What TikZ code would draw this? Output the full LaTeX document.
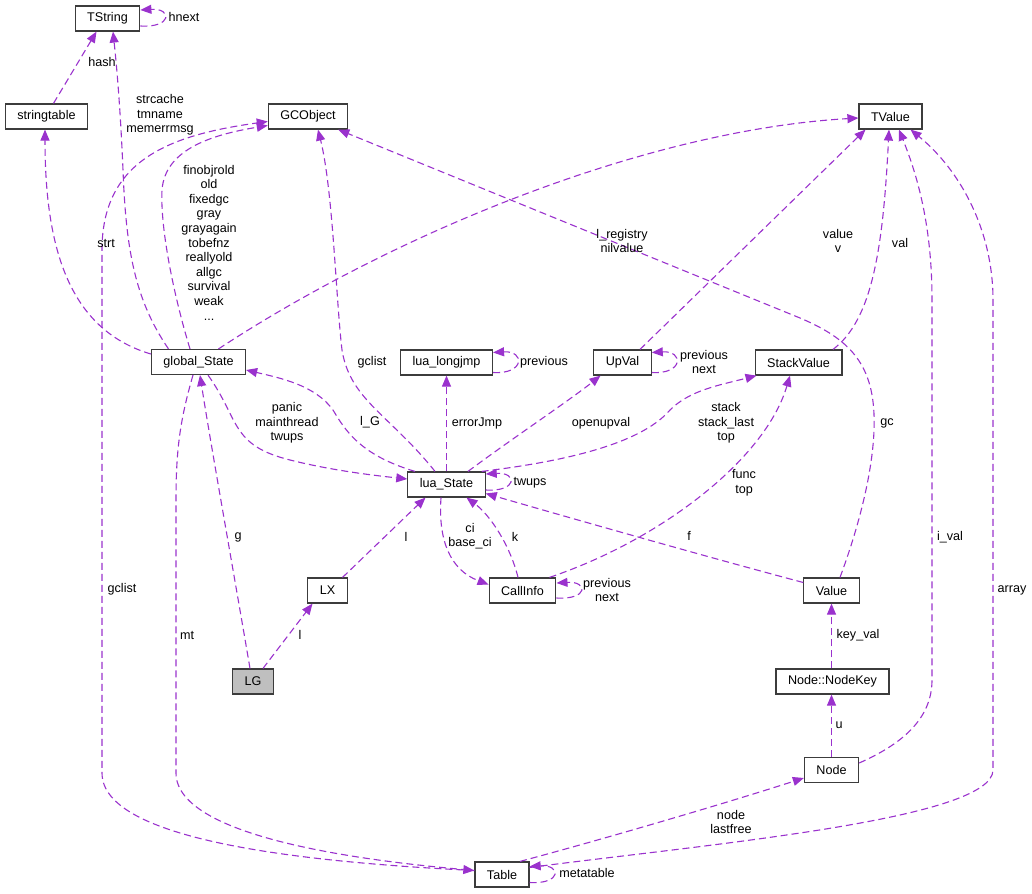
\documentclass[tikz,border=0pt]{standalone}
\usepackage{fontspec}
\setmainfont{Liberation Sans}
\usepackage{xcolor}
\usepackage{tikz}
\usetikzlibrary{arrows.meta,positioning,calc}
\definecolor{edgecol}{RGB}{154,50,205}
\definecolor{framecol}{RGB}{60,60,60}
\definecolor{hlfill}{RGB}{191,191,191}

\begin{document}
\begin{tikzpicture}[
  x=1pt, y=-1pt,
  font=\fontsize{12.6}{14.6}\selectfont,
  cls/.style={draw=framecol, line width=1.2pt, fill=white, inner xsep=12pt, inner ysep=2pt, minimum height=25pt},
  hcls/.style={cls, fill=hlfill},
  lbl/.style={align=center, inner sep=0pt},
  arrow/.style={-{Triangle[length=11pt,width=9pt]}, line width=1.1pt, color=edgecol, dash pattern=on 7pt off 4pt}
]
\useasboundingbox (0,0) rectangle (1032,893);
% classes
\node[cls] (TString) at (107.5,18.5) {TString};
\node[cls] (stringtable) at (46.5,116.5) {stringtable};
\node[cls] (GCObject) at (308,116.5) {GCObject};
\node[cls] (TValue) at (890.5,116.5) {TValue};
\node[cls] (globalState) at (198.5,362) {global\_State};
\node[cls] (lualongjmp) at (446.5,362.5) {lua\_longjmp};
\node[cls] (UpVal) at (622.5,362.5) {UpVal};
\node[cls] (StackValue) at (798.5,362.5) {StackValue};
\node[cls] (luaState) at (446.5,484.5) {lua\_State};
\node[cls] (LX) at (327.5,590.5) {LX};
\node[cls] (CallInfo) at (522.5,590.5) {CallInfo};
\node[cls] (Value) at (831.5,590.5) {Value};
\node[hcls] (LG) at (253,681.5) {LG};
\node[cls] (NodeKey) at (832.5,681.5) {Node::NodeKey};
\node[cls] (Node) at (831.5,770) {Node};
\node[cls] (Table) at (502,874.5) {Table};

% members
\draw[arrow] ([yshift=-7.5pt]TString.east) .. controls +(32,2) and +(32,-2) .. ([yshift=8.5pt]TString.east);
\draw[arrow] ([xshift=7pt]stringtable.north) -- ([xshift=-11pt]TString.south);
\draw[arrow] ([xshift=-30pt]globalState.north) .. controls (135,300) and (126,250) .. (123,170)
  .. controls (120,100) and (116,60) .. ([xshift=5.5pt]TString.south);
\draw[arrow] ([yshift=8pt]globalState.west) .. controls (70,330) and (45,250) .. ([xshift=-1.5pt]stringtable.south);
\draw[arrow] ([xshift=-8.5pt]globalState.north) .. controls (175,300) and (160,230) .. (162,190)
  .. controls (165,150) and (210,135) .. ([yshift=-9pt]GCObject.west);
\draw[arrow] ([yshift=4pt]Table.west) .. controls (300,862) and (102,840) .. (102,773) -- (102,250)
  .. controls (102,160) and (170,135) .. ([yshift=-5pt]GCObject.west);
\draw[arrow] ([xshift=-5.5pt]globalState.south) .. controls (180,420) and (176,450) .. (176,500) -- (176,773)
  .. controls (176,840) and (380,862) .. ([yshift=4pt]Table.west);
\draw[arrow] ([xshift=-11.5pt]luaState.north) .. controls (390,415) and (350,400) .. (342,350)
  .. controls (336,300) and (333,190) .. ([xshift=10pt]GCObject.south);
\draw[arrow] ([xshift=20pt]globalState.north) .. controls (400,230) and (650,130) .. ([yshift=-1.5pt]TValue.west);
\draw[arrow] ([xshift=8.5pt]Value.north) .. controls (865,510) and (880,440) .. (872,395)
  .. controls (865,355) and (840,335) .. (800,318) -- ([xshift=-10pt]GCObject.south east);
\draw[arrow] ([xshift=17.5pt]UpVal.north) -- ([xshift=-25pt]TValue.south);
\draw[arrow] ([xshift=34.5pt]StackValue.north) .. controls (872,320) and (883,250) .. ([xshift=-1.5pt]TValue.south);
\draw[arrow] ([yshift=7pt]Node.east) .. controls (900,745) and (932,720) .. (932,680) -- (932,300)
  .. controls (932,220) and (915,170) .. ([xshift=8.5pt]TValue.south);
\draw[arrow] ([yshift=7pt]Table.east) .. controls (700,845) and (993,820) .. (993,770) -- (993,300)
  .. controls (993,230) and (960,170) .. ([xshift=20pt]TValue.south);
\draw[arrow] ([yshift=-10pt]lualongjmp.east) .. controls +(32,2) and +(32,-2) .. ([yshift=10pt]lualongjmp.east);
\draw[arrow] ([yshift=-10pt]UpVal.east) .. controls +(32,2) and +(32,-2) .. ([yshift=10pt]UpVal.east);
\draw[arrow] (luaState.north) -- (lualongjmp.south);
\draw[arrow] ([xshift=21.5pt]luaState.north) .. controls (510,440) and (570,400) .. ([xshift=-22pt]UpVal.south);
\draw[arrow] ([xshift=-4pt]luaState.north east) .. controls (560,462) and (640,445) .. (670,410)
  .. controls (690,390) and (720,385) .. ([xshift=-42pt]StackValue.south);
\draw[arrow] ([yshift=-5.5pt]luaState.east) .. controls +(32,2) and +(32,-2) .. ([yshift=10.5pt]luaState.east);
\draw[arrow] ([xshift=27pt]CallInfo.north) .. controls (660,540) and (765,460) .. ([xshift=-8.5pt]StackValue.south);
\draw[arrow] ([yshift=8pt]Value.west) .. controls (700,555) and (560,515) .. ([yshift=-9pt]luaState.east);
\draw[arrow] ([xshift=-5.5pt]luaState.south) .. controls (438,540) and (450,570) .. ([yshift=6pt]CallInfo.west);
\draw[arrow] ([xshift=-4.5pt]CallInfo.north) .. controls (510,545) and (490,515) .. ([xshift=20pt]luaState.south);
\draw[arrow] ([yshift=-7.5pt]CallInfo.east) .. controls +(32,2) and +(32,-2) .. ([yshift=7.5pt]CallInfo.east);
\draw[arrow] ([xshift=15pt]LX.north) -- ([xshift=-21pt]luaState.south);
\draw[arrow] ([xshift=-3pt]LG.north) .. controls (235,580) and (210,440) .. ([xshift=1.5pt]globalState.south);
\draw[arrow] ([xshift=10pt]LG.north) -- ([xshift=-15pt]LX.south);
\draw[arrow] ([xshift=9.5pt]globalState.south) .. controls (240,420) and (230,445) .. (290,460)
  .. controls (330,470) and (370,475) .. ([yshift=5.5pt]luaState.west);
\draw[arrow] ([xshift=-31.5pt]luaState.north) .. controls (360,455) and (345,430) .. (333,410)
  .. controls (315,385) and (280,378) .. ([yshift=-8pt]globalState.east);
\draw[arrow] ([xshift=-1pt]NodeKey.north) -- (Value.south);
\draw[arrow] (Node.north) -- ([xshift=-1pt]NodeKey.south);
\draw[arrow] ([xshift=18pt]Table.north) .. controls (600,840) and (720,805) .. ([yshift=-8pt]Node.west);
\draw[arrow] ([yshift=-8pt]Table.east) .. controls +(32,2) and +(32,-2) .. ([yshift=8pt]Table.east);

% labels
\node[lbl] (lhnext) at (184,17) {hnext};
\node[lbl] (lhash) at (102,62) {hash};
\node[lbl] (lstrcache) at (160,115) {strcache\\tmname\\memerrmsg};
\node[lbl] (lstrt) at (106,243) {strt};
\node[lbl] (lgcfields) at (209,242.5) {finobjrold\\old\\fixedgc\\gray\\grayagain\\tobefnz\\reallyold\\allgc\\survival\\weak\\...};
\node[lbl] (lgclist) at (372,362) {gclist};
\node[lbl] (lgclistt) at (122,589) {gclist};
\node[lbl] (lregistry) at (622,241) {l\_registry\\nilvalue};
\node[lbl] (lvalue) at (838,241) {value\\v};
\node[lbl] (lval) at (900,243) {val};
\node[lbl] (lgc) at (887,423) {gc};
\node[lbl] (lival) at (950,537) {i\_val};
\node[lbl] (larray) at (1012,590) {array};
\node[lbl] (lprevjmp) at (544,362) {previous};
\node[lbl] (lprevup) at (704,362) {previous\\next};
\node[lbl] (lerrorjmp) at (477,423) {errorJmp};
\node[lbl] (lopenupval) at (601,423) {openupval};
\node[lbl] (lstack) at (726,423) {stack\\stack\_last\\top};
\node[lbl] (lfunc) at (744,483) {func\\top};
\node[lbl] (ltwups) at (530,483) {twups};
\node[lbl] (lpanic) at (287,423) {panic\\mainthread\\twups};
\node[lbl] (llG) at (370,422) {l\_G};
\node[lbl] (lf) at (689,536) {f};
\node[lbl] (lci) at (470,536) {ci\\base\_ci};
\node[lbl] (lk) at (515,537) {k};
\node[lbl] (lprevci) at (607,590) {previous\\next};
\node[lbl] (llx) at (406,537) {l};
\node[lbl] (lg) at (238,537) {g};
\node[lbl] (llg) at (300,635) {l};
\node[lbl] (lmt) at (187,635) {mt};
\node[lbl] (lkeyval) at (858,635) {key\_val};
\node[lbl] (lu) at (839,725) {u};
\node[lbl] (lnode) at (731,822) {node\\lastfree};
\node[lbl] (lmeta) at (587,873) {metatable};
\end{tikzpicture}
\end{document}
